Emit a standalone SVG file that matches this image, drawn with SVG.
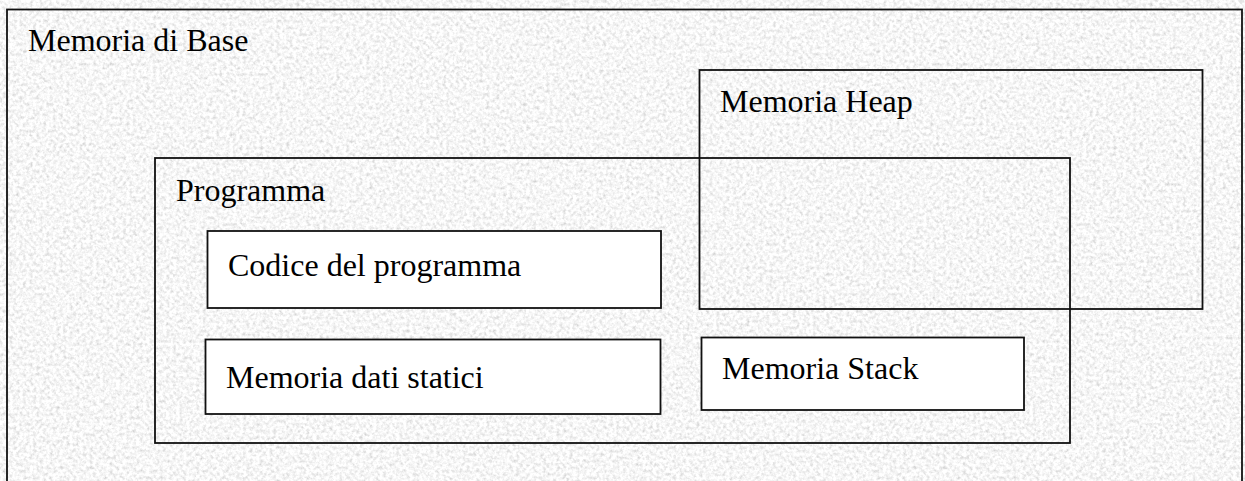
<svg xmlns="http://www.w3.org/2000/svg" width="1245" height="481" viewBox="0 0 1245 481">
  <defs>
    <filter id="granite" x="0" y="0" width="1245" height="481" filterUnits="userSpaceOnUse">
      <feTurbulence type="fractalNoise" baseFrequency="0.3" numOctaves="3" seed="7" result="n"/>
      <feColorMatrix in="n" type="matrix" values="0.6 0.25 0 0 0.5  0.6 0.25 0 0 0.5  0.6 0.25 0 0 0.5  0 0 0 0 1"/>
    </filter>
  </defs>
  <style>
    .box { fill: none; stroke: #111; stroke-width: 1.8; }
    .wbox { fill: #ffffff; stroke: #111; stroke-width: 1.8; }
    .lbl { font-family: "Liberation Serif", "Times New Roman", serif; font-size: 32px; fill: #000; }
  </style>
  <rect x="0" y="0" width="1245" height="481" filter="url(#granite)"/>

  <g id="memoria-base">
    <rect class="box" x="7" y="9.5" width="1235" height="490"/>
    <text class="lbl" x="28" y="51">Memoria di Base</text>
  </g>

  <g id="programma">
    <rect class="box" x="155" y="158" width="915" height="285"/>
    <text class="lbl" x="176" y="201">Programma</text>
  </g>

  <g id="memoria-heap">
    <rect class="box" x="699.5" y="70" width="503" height="239"/>
    <text class="lbl" x="720" y="112">Memoria Heap</text>
  </g>

  <g id="codice">
    <rect class="wbox" x="207.5" y="231" width="453.5" height="77"/>
    <text class="lbl" x="228" y="276">Codice del programma</text>
  </g>

  <g id="dati-statici">
    <rect class="wbox" x="205.5" y="339.5" width="455" height="74.5"/>
    <text class="lbl" x="226" y="388">Memoria dati statici</text>
  </g>

  <g id="stack">
    <rect class="wbox" x="701.5" y="337.5" width="322.5" height="72.5"/>
    <text class="lbl" x="722" y="379">Memoria Stack</text>
  </g>

  <g id="connectors"/>
</svg>
